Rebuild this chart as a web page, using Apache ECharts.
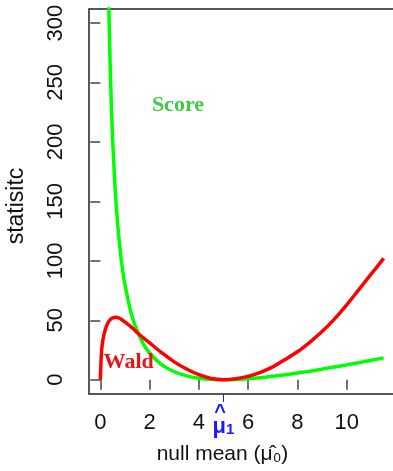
<!DOCTYPE html>
<html>
<head>
<meta charset="utf-8">
<script src="https://cdn.jsdelivr.net/npm/echarts@6/dist/echarts.min.js"></script>
<style>
  html, body { margin: 0; padding: 0; background: #fff; }
  #chart { width: 393px; height: 471px; }
</style>
</head>
<body>
<div id="chart"></div>
<script>
// null mean values and the two statistics
var waldX = [0, 0.02, 0.05, 0.1, 0.2, 0.3, 0.4, 0.5, 0.65, 0.8, 1.0, 1.25, 1.5, 2.0, 2.5, 3.0, 3.5, 4.0, 4.5, 5.0, 5.5, 6.0, 6.5, 7.0, 7.5, 8.0, 8.5, 9.0, 9.5, 10.0, 10.5, 11.0, 11.5];
var waldY = [0, 12, 24, 33, 42, 47.5, 50.5, 52, 52.6, 51.5, 48.5, 44.5, 39.5, 31, 22.5, 15, 9, 4.2, 1, 0, 0.8, 2.8, 6.2, 10.8, 17, 23.5, 31.5, 40.5, 51, 63, 76, 89, 102];

var scoreX = [0.3, 0.35, 0.4, 0.45, 0.5, 0.6, 0.7, 0.8, 0.9, 1.0, 1.25, 1.5, 1.75, 2.0, 2.5, 3.0, 3.5, 4.0, 4.5, 5.0, 5.5, 6.0, 6.5, 7.0, 7.5, 8.0, 8.5, 9.0, 9.5, 10.0, 10.5, 11.0, 11.5];
var scoreY = [368, 309, 264, 229, 202, 161, 132, 110, 93, 80, 56, 41, 30, 22.5, 12.5, 6.7, 3.2, 1.25, 0.3, 0, 0.2, 0.8, 1.7, 2.9, 4.2, 5.6, 7.2, 8.9, 10.7, 12.5, 14.4, 16.4, 18.4];

var xTicks = [0, 2, 4, 6, 8, 10];
var yTicks = [0, 50, 100, 150, 200, 250, 300];
var muHat = 5;

// where the curve labels sit, in data units
var scoreLabelAt = [3.15, 231];
var waldLabelAt = [1.15, 14.5];

var pairs = function (xs, ys) {
    return xs.map(function (x, i) { return [x, ys[i]]; });
};

var sans = 'Liberation Sans';
var serif = 'Liberation Serif';
var blue = '#1a1aff';

var option = {
    animation: false,
    grid: {
        left: 89, top: 9, right: -2, bottom: 77,
        outerBoundsMode: 'none',
        show: true, borderColor: '#222', borderWidth: 1.5
    },
    xAxis: [
        {
            type: 'value', min: -0.46, max: 11.96, position: 'bottom',
            name: 'null mean (μ̂₀)',
            nameLocation: 'middle', nameGap: 50,
            nameTextStyle: { fontFamily: sans, fontSize: 21, color: '#111', padding: [0, 39, 0, 0] },
            axisLine: { show: false },
            splitLine: { show: false },
            axisTick: { customValues: xTicks, length: 10, lineStyle: { color: '#444', width: 1.5 } },
            axisLabel: { customValues: xTicks, margin: 18, fontFamily: sans, fontSize: 22, color: '#111' }
        },
        {
            type: 'value', min: -0.46, max: 11.96, position: 'bottom', offset: 0,
            axisLine: { show: false },
            splitLine: { show: false },
            axisTick: { customValues: [muHat], length: 8, lineStyle: { color: blue, width: 1 } },
            axisLabel: {
                customValues: [muHat], margin: 12,
                formatter: function () { return '{hat|^}\n{mu|μ}{sub|1}'; },
                rich: {
                    hat: { fontFamily: sans, fontWeight: 'bold', fontSize: 20, lineHeight: 12, color: blue, padding: [0, 7, 0, 0] },
                    mu: { fontFamily: sans, fontWeight: 'bold', fontSize: 22, lineHeight: 18, color: blue },
                    sub: { fontFamily: sans, fontWeight: 'bold', fontSize: 15, lineHeight: 18, color: blue, padding: [6, 0, 0, 0] }
                }
            }
        }
    ],
    yAxis: {
        type: 'value', min: -12, max: 311.8,
        name: 'statisitc',
        nameLocation: 'middle', nameGap: 61, nameRotate: 90,
        nameTextStyle: { fontFamily: sans, fontSize: 23, color: '#111', padding: [0, 9, 0, 0] },
        axisLine: { show: false },
        splitLine: { show: false },
        axisTick: { customValues: yTicks, length: 10, lineStyle: { color: '#444', width: 1.5 } },
        axisLabel: { customValues: yTicks, rotate: 90, margin: 22, fontFamily: sans, fontSize: 22, color: '#111' }
    },
    series: [
        {
            name: 'Score', type: 'line',
            data: pairs(scoreX, scoreY),
            showSymbol: false, smooth: 0.25,
            lineStyle: { color: '#00ff00', width: 3.5 },
            markPoint: {
                symbol: 'circle', symbolSize: 0,
                data: [{ coord: scoreLabelAt }],
                label: {
                    show: true, position: 'inside', formatter: 'Score',
                    fontFamily: serif, fontWeight: 'bold', fontSize: 22, color: '#3dcc3d'
                }
            }
        },
        {
            name: 'Wald', type: 'line',
            data: pairs(waldX, waldY),
            showSymbol: false, smooth: 0.25,
            lineStyle: { color: '#ff0000', width: 3.5 },
            markPoint: {
                symbol: 'circle', symbolSize: 0,
                data: [{ coord: waldLabelAt }],
                label: {
                    show: true, position: 'inside', formatter: 'Wald',
                    fontFamily: serif, fontWeight: 'bold', fontSize: 22, color: '#ee1111'
                }
            }
        }
    ]
};

var chart = echarts.init(document.getElementById('chart'), null, { renderer: 'canvas' });
chart.setOption(option);
</script>
</body>
</html>
